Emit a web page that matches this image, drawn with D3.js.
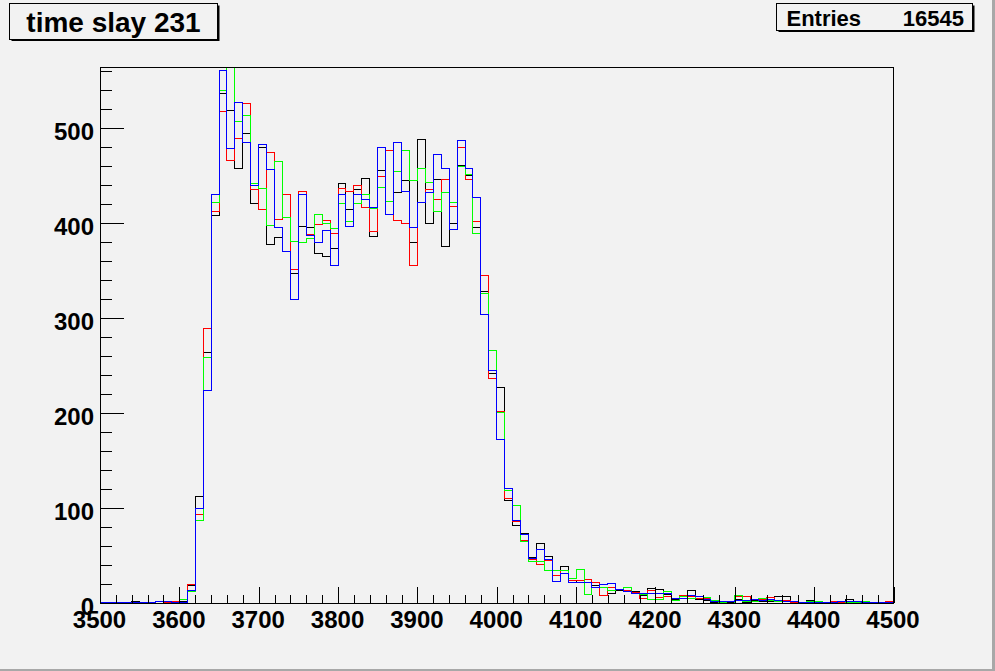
<!DOCTYPE html>
<html>
<head>
<meta charset="utf-8">
<script src="https://cdn.jsdelivr.net/npm/d3@7"></script>
<style>
  html, body { margin: 0; padding: 0; background: #f2f2f2; }
  svg { display: block; }
  text { font-family: "Liberation Sans", Arial, Helvetica, sans-serif; font-weight: bold; fill: #000; }
</style>
</head>
<body>
<script>
// ---- data (bin width 10, bins start at 3500) ----
const binStart = 3500;
const binWidth = 10;
const titleText = "time slay 231";
const statsLabel = "Entries";
const statsValue = "16545";
const xTickValues = [3500, 3600, 3700, 3800, 3900, 4000, 4100, 4200, 4300, 4400, 4500];
const yTickValues = [0, 100, 200, 300, 400, 500];

const blackCounts = [0,0,0,0,2,0,0,0,0,0, 2,18,112,264,408,537,519,458,495,421, 480,378,385,370,347,397,395,368,365,373, 442,414,435,447,386,455,423,432,445,380, 488,400,446,376,400,461,450,395,328,242, 227,108,82,73,48,63,49,34,38,24, 22,22,18,16,10,13,13,12,8,15, 14,9,4,5,13,4,3,1,1,1, 4,1,3,2,2,7,7,2,0,3, 0,0,0,0,4,0,0,0,0,0];
const redCounts = [0,0,0,0,0,1,0,0,1,2, 1,20,93,289,412,518,466,489,526,435, 414,475,404,430,351,433,388,399,403,389, 437,433,440,417,391,449,477,403,400,355, 422,435,425,446,418,480,446,402,345,236, 202,110,86,66,46,41,45,29,34,24, 24,25,22,8,16,14,13,11,5,13, 6,7,5,8,7,5,5,2,1,2, 7,7,4,4,6,2,3,1,1,0, 0,0,2,1,2,2,1,0,0,2];
const greenCounts = [0,0,1,1,0,0,0,0,0,0, 4,12,87,259,422,540,580,507,513,442, 437,398,465,406,381,380,384,409,400,394, 421,402,421,430,415,438,423,454,477,445, 458,443,412,432,422,460,451,389,326,266, 201,119,103,65,44,44,34,34,34,26, 35,9,16,16,13,14,16,10,9,4, 4,12,3,7,5,7,6,3,1,0, 8,2,2,5,3,2,2,2,1,2, 2,1,1,0,1,1,2,0,0,1];
const blueCounts = [1,1,1,1,1,1,1,2,2,1, 1,13,100,224,430,561,479,527,485,440, 483,457,396,370,320,430,387,380,392,355, 430,397,430,425,417,480,409,485,433,395, 422,432,472,458,393,487,458,427,304,245, 172,121,87,72,47,56,46,23,31,22, 22,22,16,20,21,14,12,10,10,10, 10,10,5,5,8,7,4,2,2,2, 3,3,4,3,4,3,2,2,1,1, 1,1,1,2,2,2,1,1,1,1];

const series = [
  { name: "black", counts: blackCounts, color: "#000000" },
  { name: "red",   counts: redCounts,   color: "#ff0000" },
  { name: "green", counts: greenCounts, color: "#00ff00" },
  { name: "blue",  counts: blueCounts,  color: "#0000ff" }
];

// ---- layout ----
const W = 995, H = 671;
const frame = { left: 100, right: 893.5, top: 67.5, bottom: 603 };
const yMax = 564;

const svg = d3.select("body").append("svg").attr("width", W).attr("height", H);

svg.append("rect").attr("x", 0).attr("y", 0).attr("width", W).attr("height", H).attr("fill", "#f2f2f2");
// canvas bevel
svg.append("rect").attr("x", 992).attr("y", 0).attr("width", 3).attr("height", H).attr("fill", "#a8a8a8");
svg.append("rect").attr("x", 0).attr("y", 669).attr("width", W).attr("height", 2).attr("fill", "#a8a8a8");

const x = d3.scaleLinear().domain([3500, 4500]).range([frame.left, frame.right]);
const y = d3.scaleLinear().domain([0, yMax]).range([frame.bottom, frame.top]);

svg.append("defs").append("clipPath").attr("id", "clip")
  .append("rect")
  .attr("x", frame.left).attr("y", frame.top)
  .attr("width", frame.right - frame.left).attr("height", frame.bottom - frame.top);

// ---- histograms ----
const plot = svg.append("g").attr("clip-path", "url(#clip)");
series.forEach(s => {
  const pts = [];
  pts.push([x(binStart), y(0)]);
  s.counts.forEach((c, i) => {
    const x0 = x(binStart + i * binWidth), x1 = x(binStart + (i + 1) * binWidth);
    pts.push([x0, y(c)]);
    pts.push([x1, y(c)]);
  });
  pts.push([x(binStart + s.counts.length * binWidth), y(0)]);
  plot.append("path")
    .attr("d", d3.line()(pts))
    .attr("fill", "none")
    .attr("stroke", s.color)
    .attr("stroke-width", 1)
    .attr("shape-rendering", "crispEdges");
});

// ---- frame ----
svg.append("rect")
  .attr("x", frame.left).attr("y", frame.top)
  .attr("width", frame.right - frame.left).attr("height", frame.bottom - frame.top)
  .attr("fill", "none").attr("stroke", "#000").attr("stroke-width", 1)
  .attr("shape-rendering", "crispEdges");

// ---- axes ----
const xMinor = d3.range(3500, 4501, 20);
const yMinor = d3.range(0, 561, 20);

svg.append("g").attr("transform", `translate(0,${frame.bottom})`)
  .call(d3.axisBottom(x).tickValues(xMinor).tickSize(-8).tickFormat(""))
  .call(g => g.select(".domain").remove())
  .call(g => g.selectAll("line").attr("stroke", "#000").attr("shape-rendering", "crispEdges"));

const xAxis = svg.append("g").attr("transform", `translate(0,${frame.bottom})`)
  .call(d3.axisBottom(x).tickValues(xTickValues).tickSize(-16).tickPadding(8).tickFormat(d3.format("d")))
  .call(g => g.select(".domain").remove())
  .call(g => g.selectAll("line").attr("stroke", "#000").attr("shape-rendering", "crispEdges"));
xAxis.selectAll("text").style("font-size", "24px").attr("dx", "-1");

svg.append("g").attr("transform", `translate(${frame.left},0)`)
  .call(d3.axisLeft(y).tickValues(yMinor).tickSize(-12).tickFormat(""))
  .call(g => g.select(".domain").remove())
  .call(g => g.selectAll("line").attr("stroke", "#000").attr("shape-rendering", "crispEdges"));

const yAxis = svg.append("g").attr("transform", `translate(${frame.left},0)`)
  .call(d3.axisLeft(y).tickValues(yTickValues).tickSize(-24).tickPadding(6).tickFormat(d3.format("d")))
  .call(g => g.select(".domain").remove())
  .call(g => g.selectAll("line").attr("stroke", "#000").attr("shape-rendering", "crispEdges"));
yAxis.selectAll("text").style("font-size", "24px").attr("dy", "0.46em");

// ---- title box ----
function box(x0, y0, x1, y1) {
  svg.append("rect").attr("x", x0 + 2).attr("y", y0 + 2).attr("width", x1 - x0).attr("height", y1 - y0)
    .attr("fill", "#000");
  svg.append("rect").attr("x", x0).attr("y", y0).attr("width", x1 - x0).attr("height", y1 - y0)
    .attr("fill", "#f2f2f2").attr("stroke", "#000").attr("stroke-width", 1)
    .attr("shape-rendering", "crispEdges");
}
box(9.5, 3.5, 217.5, 39);
svg.append("text").attr("x", 113.5).attr("y", 31.5).attr("text-anchor", "middle")
  .style("font-size", "28px").text(titleText);

box(776.5, 3.5, 972.5, 30);
svg.append("text").attr("x", 786.5).attr("y", 26).style("font-size", "22px").text(statsLabel);
svg.append("text").attr("x", 964).attr("y", 26).attr("text-anchor", "end").style("font-size", "22px").text(statsValue);
</script>
</body>
</html>
